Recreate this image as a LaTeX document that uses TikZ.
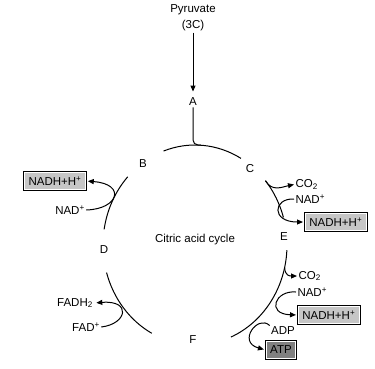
\documentclass[tikz,border=0pt]{standalone}
\usepackage{fontspec}
\setmainfont{Liberation Sans}
\usetikzlibrary{arrows.meta, positioning, calc}

\begin{document}
\begin{tikzpicture}[
        x=1pt, y=1pt, >={Triangle[length=6pt,width=5pt]},
        font=\fontsize{11.5}{16}\selectfont, line width=1pt,
        lbl/.style={inner sep=1pt, align=center},
        prod/.style={preaction={draw=black, line width=2.6pt}, draw=white, line width=0.8pt, fill=gray!45, inner xsep=4pt, inner ysep=2pt, minimum height=17pt},
        atpbox/.style={prod, fill=gray}
    ]
    \useasboundingbox (0,0) rectangle (375,-368);
    \coordinate (ctr) at (195,-245);
    % cycle, broken at the intermediates
    \foreach \a/\b in {60/110, 137/171, 196/242, 293/357, 16/40}
        \draw (ctr) ++(\a:92 and 100) arc[start angle=\a, end angle=\b, x radius=92, y radius=100];
    \path (ctr) ++(40:92 and 100) coordinate (c1);
    \path (ctr) ++(347:92 and 100) coordinate (c2);

    \node[lbl] (pyruvate) at (193,-18) {Pyruvate\\(3C)};
    \node[lbl] (A) at (193,-102) {A};
    \node[lbl] (B) at (143,-164) {B};
    \node[lbl] (C) at (250,-169) {C};
    \node[lbl] (D) at (104,-250) {D};
    \node[lbl] (E) at (284,-237) {E};
    \node[lbl] (F) at (193,-340) {F};
    \node[lbl] (cycle) at (195,-240) {Citric acid cycle};

    \draw[->, shorten >=5pt] (pyruvate) -- (A);
    \draw[rounded corners=5pt] (A.south) |- (201,-145);

    % B -> D
    \node[prod] (nadh1) at (55,-181) {NADH+H\textsuperscript{+}};
    \node[lbl] (nad1) at (70,-210) {NAD\textsuperscript{+}};
    \draw[->, shorten >=2pt] (nad1.east) .. controls (119,-209) and (126,-184) .. (nadh1.east);

    % C -> E
    \node[lbl, anchor=west] (co2a) at (294,-184.5) {CO\textsubscript{2}};
    \draw[->] (c1) .. controls (272,-192) and (282,-187) .. (co2a.west);
    \node[lbl, anchor=west] (nad2) at (294,-199) {NAD\textsuperscript{+}};
    \node[prod, anchor=west] (nadh2) at (305,-222) {NADH+H\textsuperscript{+}};
    \draw[->, shorten >=2pt] (nad2.west) .. controls (273,-198) and (271,-222) .. (nadh2.west);

    % E -> F
    \node[lbl, anchor=west] (co2b) at (297,-276) {CO\textsubscript{2}};
    \draw[->] (c2) .. controls (285,-276) and (290,-276) .. (co2b.west);
    \node[lbl, anchor=west] (nad3) at (296,-292) {NAD\textsuperscript{+}};
    \node[prod, anchor=west] (nadh3) at (298,-315) {NADH+H\textsuperscript{+}};
    \draw[->, shorten >=2pt] (nad3.west) .. controls (275,-290) and (266,-314) .. (nadh3.west);
    \node[lbl] (adp) at (283,-331) {ADP};
    \node[atpbox] (atp) at (281,-350) {ATP};
    \draw[->, shorten >=2pt] (adp.north west) .. controls (258,-314) and (237,-342) .. (atp.west);

    % F -> D
    \node[lbl] (fadh2) at (75,-303) {FADH\textsubscript{2}};
    \node[lbl] (fad) at (86,-327) {FAD\textsuperscript{+}};
    \draw[->, shorten >=2pt] (fad.east) .. controls (127,-324) and (132,-300) .. (fadh2.east);
\end{tikzpicture}
\end{document}
